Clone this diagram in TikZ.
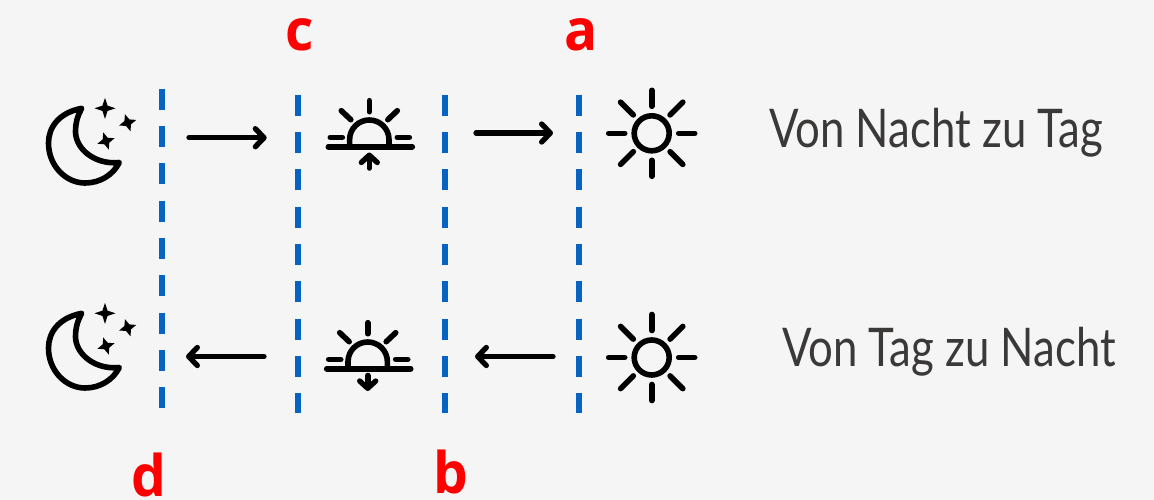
\documentclass[tikz,border=0pt]{standalone}
\usepackage{fontspec}
\setmainfont{Open Sans}
\newfontfamily\capfont{Lato}
\usetikzlibrary{arrows.meta}
\definecolor{bgc}{HTML}{F5F5F5}
\definecolor{divc}{HTML}{0563C1}
\definecolor{txtc}{HTML}{3B3838}
\tikzset{x=0.75pt,y=-0.75pt,
 divider/.style={draw=divc,line width=3.9pt,dash pattern=on 15.9pt off 12.1pt},
 icon/.style={draw=black,line width=4.2pt,line cap=round,line join=round},
 flow/.style={draw=black,line width=4pt,line cap=round,-{Straight Barb[length=6.5pt,width=13.5pt,line width=4pt,round]}},
 letter/.style={text=red,font=\fontsize{43}{43}\selectfont\bfseries,inner sep=0pt,anchor=base,xscale=0.96},
 caption/.style={text=txtc,font=\capfont\fontsize{40}{40}\selectfont,inner sep=0pt},
 moonicon/.pic={
  \draw[icon] (81.7,108.3) .. controls (58,113) and (48.5,128) .. (48.5,143)
     .. controls (48.5,166) and (66,183) .. (85,183)
     .. controls (100,183) and (113,175) .. (119.3,162.5)
     .. controls (96,165) and (76,150) .. (75.5,132)
     .. controls (75.5,122) and (78,115) .. (81.7,108.3) -- cycle;
  \foreach \sx/\sy/\r/\a in {105/108.3/10.5/0,127.7/122.7/9/18,106/141/9/18}{
   \fill[black,shift={(\sx,\sy)},rotate=\a] (0,-\r) -- (2.6,-2.6) -- (\r,0) -- (2.6,2.6) -- (0,\r) -- (-2.6,2.6) -- (-\r,0) -- (-2.6,-2.6) -- cycle;
  }
 },
 sunicon/.pic={
  \draw[icon] (0,0) circle[radius=17.5];
  \foreach \a in {0,90,180,270}{\draw[icon,rotate=\a] (27,0) -- (43,0);}
  \foreach \a in {45,135,225,315}{\draw[icon,rotate=\a] (26,0) -- (44,0);}
 },
 dawnicon/.pic={
  \draw[icon] (-41,0) -- (43,0);
  \draw[icon] (-19.7,0) -- (-19.7,-7) arc[start angle=180,end angle=360,radius=19.7] -- (19.7,0);
  \draw[icon] (0,-46) -- (0,-35);
  \draw[icon] (-28,-36) -- (-18.5,-27);
  \draw[icon] (28,-36) -- (18.5,-27);
  \draw[icon] (-39,-9.4) -- (-27,-9.4);
  \draw[icon] (28,-9.4) -- (40,-9.4);
 }
}
\begin{document}
\begin{tikzpicture}
\useasboundingbox[fill=bgc] (0,0) rectangle (1154,500);
% divider ends
\coordinate (dT) at (162,88.5); \coordinate (dB) at (162,408);
\coordinate (cT) at (298,94.5); \coordinate (cB) at (298,413);
\coordinate (bT) at (445,94.5); \coordinate (bB) at (445,413);
\coordinate (aT) at (579,94.5); \coordinate (aB) at (579,413);
\foreach \n in {a,b,c,d}{\draw[divider] (\n T) -- (\n B);}
% icons
\pic at (0,0) {moonicon};
\pic at (0,205) {moonicon};
\pic at (651.7,133.3) {sunicon};
\pic at (651.7,357.5) {sunicon};
\pic (dawnA) at (369.3,146.7) {dawnicon};
\pic (dawnB) at (367.7,368.7) {dawnicon};
% small sunrise / sunset arrows
\coordinate (upS) at (369.3,168); \coordinate (upE) at (369.3,152.5);
\coordinate (dnS) at (367.7,375.5); \coordinate (dnE) at (367.7,391);
\draw[icon,-{Straight Barb[length=5.5pt,width=12pt,line width=4pt,round]}] (upS) -- (upE);
\draw[icon,-{Straight Barb[length=5.5pt,width=12pt,line width=4pt,round]}] (dnS) -- (dnE);
% flow arrows
\coordinate (f1s) at (189,137.7); \coordinate (f1e) at (266.7,137.7);
\coordinate (f2s) at (476,133); \coordinate (f2e) at (553,133);
\coordinate (f3s) at (264,356.5); \coordinate (f3e) at (186,356.5);
\coordinate (f4s) at (553,356.5); \coordinate (f4e) at (475,356.5);
\draw[flow] (f1s) -- (f1e);
\draw[flow] (f2s) -- (f2e);
\draw[flow] (f3s) -- (f3e);
\draw[flow] (f4s) -- (f4e);
% labels
\node[letter] (la) at (581.5,50) {a};
\node[letter] (lc) at (299.5,50) {c};
\node[letter] (lb) at (450.5,493.5) {b};
\node[letter] (ld) at (148.5,496) {d};
\node[caption,xscale=0.82] (t1) at (936,133) {Von Nacht zu Tag};
\node[caption,xscale=0.82] (t2) at (949,352) {Von Tag zu Nacht};
\end{tikzpicture}
\end{document}
